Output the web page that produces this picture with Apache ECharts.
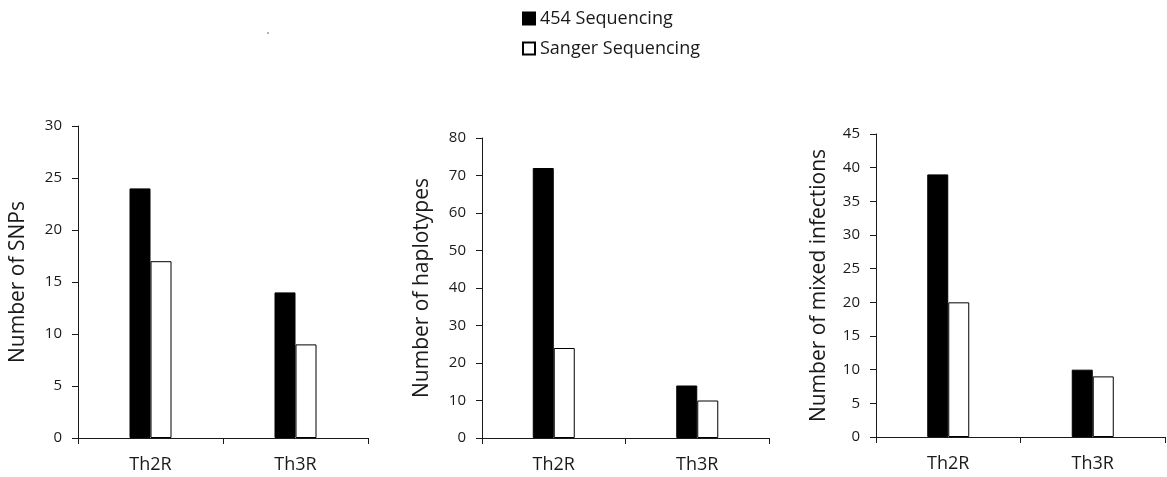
<!DOCTYPE html>
<html>
<head>
<meta charset="utf-8">
<script src="https://cdn.jsdelivr.net/npm/echarts@6/dist/echarts.min.js"></script>
<style>
  html, body { margin: 0; padding: 0; background: #fff; }
  #chart { width: 1167px; height: 477px; }
</style>
</head>
<body>
<div id="chart"></div>
<script>
// 数据
var categories = ['Th2R', 'Th3R'];
var seriesNames = ['454 Sequencing', 'Sanger Sequencing'];

var snps454 = [24, 14];
var snpsSanger = [17, 9];

var hap454 = [72, 14];
var hapSanger = [24, 10];

var mixed454 = [39, 10];
var mixedSanger = [20, 9];

var yTitles = ['Number of SNPs', 'Number of haplotypes', 'Number of mixed infections'];
var yMax = [30, 80, 45];
var yStep = [5, 10, 5];

var FONT = '"Open Sans", "DejaVu Sans", sans-serif';
var INK = '#1a1a1a';

var chart = echarts.init(document.getElementById('chart'));

// 三个面板的位置
var grids = [
    { left: 78, top: 126, width: 290, height: 312 },
    { left: 482, top: 138, width: 287, height: 300 },
    { left: 876, top: 134, width: 289, height: 303 }
];
var nameGaps = [49, 49, 46];

var xAxes = grids.map(function (g, i) {
    return {
        type: 'category',
        gridIndex: i,
        data: categories,
        axisLine: { lineStyle: { color: INK, width: 1 } },
        axisTick: { show: true, length: 6, lineStyle: { color: INK } },
        axisLabel: { color: INK, fontSize: 18, fontFamily: FONT, margin: 18 }
    };
});

var yAxes = grids.map(function (g, i) {
    return {
        type: 'value',
        gridIndex: i,
        min: 0,
        max: yMax[i],
        interval: yStep[i],
        name: yTitles[i],
        nameLocation: 'middle',
        nameGap: nameGaps[i],
        nameTextStyle: { color: INK, fontSize: 21, fontFamily: FONT },
        axisLine: { show: true, lineStyle: { color: INK, width: 1 } },
        axisTick: { show: true, length: 6, lineStyle: { color: INK } },
        axisLabel: { color: INK, fontSize: 15, fontFamily: FONT, margin: 16 },
        splitLine: { show: false }
    };
});

var panels = [
    [snps454, snpsSanger],
    [hap454, hapSanger],
    [mixed454, mixedSanger]
];

var series = [];
panels.forEach(function (pair, i) {
    series.push({
        name: seriesNames[0],
        type: 'bar',
        xAxisIndex: i,
        yAxisIndex: i,
        data: pair[0],
        barWidth: 21,
        barGap: '0%',
        itemStyle: { color: '#000', borderColor: '#000', borderWidth: 1 }
    });
    series.push({
        name: seriesNames[1],
        type: 'bar',
        xAxisIndex: i,
        yAxisIndex: i,
        data: pair[1],
        barWidth: 21,
        barGap: '0%',
        itemStyle: { color: '#fff', borderColor: '#000', borderWidth: 1 }
    });
});

chart.setOption({
    backgroundColor: '#fff',
    animation: false,
    legend: {
        data: seriesNames,
        orient: 'vertical',
        left: 517,
        top: 4,
        icon: 'rect',
        itemWidth: 12,
        itemHeight: 12,
        itemGap: 11,
        textStyle: { color: INK, fontSize: 18, fontFamily: FONT, lineHeight: 19 }
    },
    grid: grids,
    xAxis: xAxes,
    yAxis: yAxes,
    series: series,
    graphic: [
        { type: 'circle', shape: { cx: 268, cy: 33, r: 0.8 }, style: { fill: '#555' } }
    ]
});
</script>
</body>
</html>
